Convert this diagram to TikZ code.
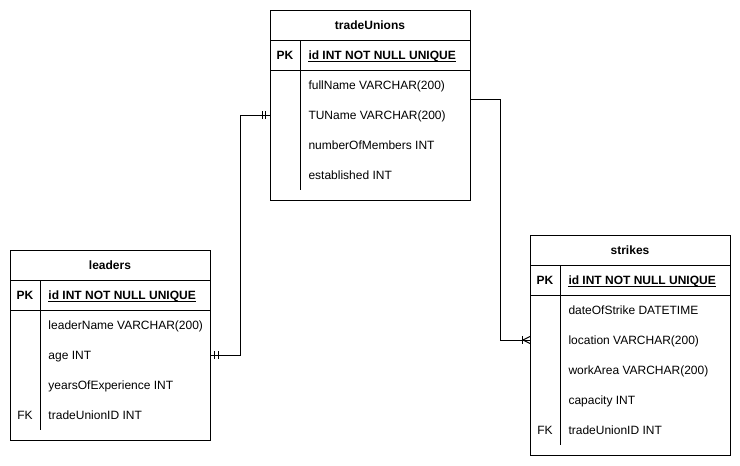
\documentclass[tikz,border=0pt]{standalone}
\usepackage{fontspec}
\setmainfont{Liberation Sans}
\usetikzlibrary{calc}
\begin{document}
\begin{tikzpicture}[x=1pt,y=-1pt,line width=1pt,
  tablebox/.style={draw,rectangle,inner sep=0pt,outer sep=0pt,minimum width=200pt,anchor=north west},
  titletext/.style={font=\fontsize{12}{14}\selectfont\bfseries,inner sep=0pt,anchor=base},
  keytext/.style={font=\fontsize{12}{14}\selectfont,inner sep=0pt,anchor=base},
  pktext/.style={font=\fontsize{12}{14}\selectfont\bfseries,inner sep=0pt,anchor=base west},
  fieldtext/.style={font=\fontsize{12}{14}\selectfont,inner sep=0pt,anchor=base west},
  sepline/.style={draw,line width=1pt},
  relline/.style={draw,line width=1pt}]

% canvas
\path[use as bounding box] (0,0) rectangle (740,466);
\fill[white] (0,0) rectangle (740,466);

% ---------- tradeUnions ----------
\node[tablebox,minimum height=190pt] (tu) at (270,10) {};
\draw[sepline] (270,40) -- (470,40);
\draw[sepline] (270,70) -- (470,70);
\draw[sepline] (300,40) -- (300,190);
\node[titletext] (tu-title) at (370,29.5) {tradeUnions};
\node[keytext,font=\fontsize{12}{14}\selectfont\bfseries] (tu-pk) at (285,59.5) {PK};
\node[pktext] (tu-id) at (308,59.5) {id INT NOT NULL UNIQUE};
\draw[line width=0.9pt] ([yshift=-2pt]tu-id.base west) -- ([yshift=-2pt]tu-id.base east);
\node[fieldtext] (tu-f1) at (308,89.5) {fullName VARCHAR(200)};
\node[fieldtext] (tu-f2) at (308,119.5) {TUName VARCHAR(200)};
\node[fieldtext] (tu-f3) at (308,149.5) {numberOfMembers INT};
\node[fieldtext] (tu-f4) at (308,179.5) {established INT};

% ---------- leaders ----------
\node[tablebox,minimum height=190pt] (ld) at (10,250) {};
\draw[sepline] (10,280) -- (210,280);
\draw[sepline] (10,310) -- (210,310);
\draw[sepline] (40,280) -- (40,430);
\node[titletext] (ld-title) at (110,269.5) {leaders};
\node[keytext,font=\fontsize{12}{14}\selectfont\bfseries] (ld-pk) at (25,299.5) {PK};
\node[pktext] (ld-id) at (48,299.5) {id INT NOT NULL UNIQUE};
\draw[line width=0.9pt] ([yshift=-2pt]ld-id.base west) -- ([yshift=-2pt]ld-id.base east);
\node[fieldtext] (ld-f1) at (48,329.5) {leaderName VARCHAR(200)};
\node[fieldtext] (ld-f2) at (48,359.5) {age INT};
\node[fieldtext] (ld-f3) at (48,389.5) {yearsOfExperience INT};
\node[keytext] (ld-fk) at (25,419.5) {FK};
\node[fieldtext] (ld-f4) at (48,419.5) {tradeUnionID INT};

% ---------- strikes ----------
\node[tablebox,minimum height=220pt] (st) at (530,235) {};
\draw[sepline] (530,265) -- (730,265);
\draw[sepline] (530,295) -- (730,295);
\draw[sepline] (560,265) -- (560,445);
\node[titletext] (st-title) at (630,254.5) {strikes};
\node[keytext,font=\fontsize{12}{14}\selectfont\bfseries] (st-pk) at (545,284.5) {PK};
\node[pktext] (st-id) at (568,284.5) {id INT NOT NULL UNIQUE};
\draw[line width=0.9pt] ([yshift=-2pt]st-id.base west) -- ([yshift=-2pt]st-id.base east);
\node[fieldtext] (st-f1) at (568,314.5) {dateOfStrike DATETIME};
\node[fieldtext] (st-f2) at (568,344.5) {location VARCHAR(200)};
\node[fieldtext] (st-f3) at (568,374.5) {workArea VARCHAR(200)};
\node[fieldtext] (st-f4) at (568,404.5) {capacity INT};
\node[keytext] (st-fk) at (545,434.5) {FK};
\node[fieldtext] (st-f5) at (568,434.5) {tradeUnionID INT};

% ---------- relationships ----------
% tradeUnions (one) -- leaders (one)
\coordinate (tu-w) at (tu.west |- 0,115);
\coordinate (ld-e) at (ld.east |- 0,355);
\draw[relline] (tu-w) -- ++(-30,0) |- (ld-e);
\draw[relline] ($(tu-w)+(-4.5,-4)$) -- ++(0,8);
\draw[relline] ($(tu-w)+(-8,-4)$) -- ++(0,8);
\draw[relline] ($(ld-e)+(4.5,-4)$) -- ++(0,8);
\draw[relline] ($(ld-e)+(8,-4)$) -- ++(0,8);

% tradeUnions (one) -- strikes (many)
\coordinate (tu-e) at (tu.east |- 0,99);
\coordinate (st-w) at (st.west |- 0,340);
\draw[relline] (tu-e) -- ++(30,0) |- (st-w);
\draw[relline] ($(st-w)+(-8,-4)$) -- ++(0,8);
\draw[relline] ($(st-w)+(-7,0)$) -- ($(st-w)+(0,-3.5)$);
\draw[relline] ($(st-w)+(-7,0)$) -- ($(st-w)+(0,3.5)$);

\end{tikzpicture}
\end{document}
